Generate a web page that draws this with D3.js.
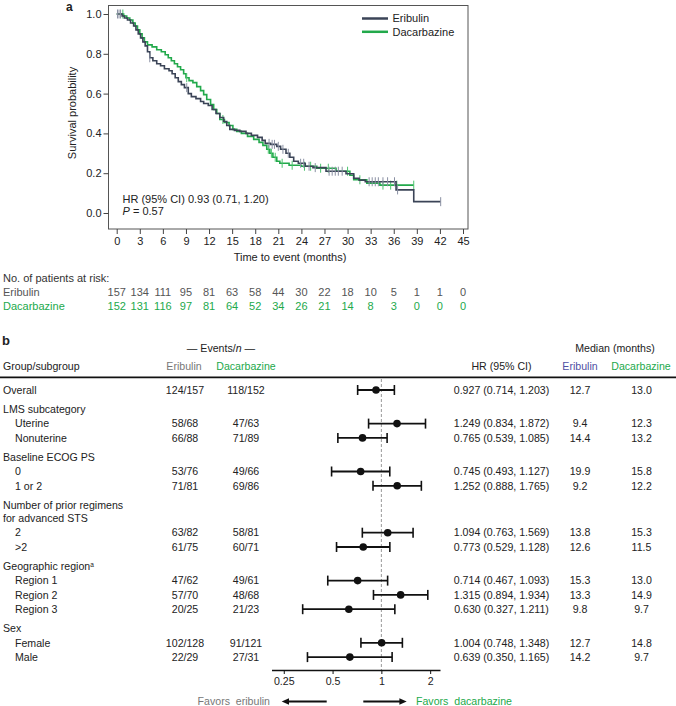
<!DOCTYPE html>
<html>
<head>
<meta charset="utf-8">
<script src="https://cdn.jsdelivr.net/npm/d3@7"></script>
<style>
  body { margin: 0; background: #fff; }
  text { font-family: "Liberation Sans", Arial, sans-serif; }
</style>
</head>
<body>
<div id="chart"></div>
<script>
// ---- panel a data ----
const monthTicks = [0, 3, 6, 9, 12, 15, 18, 21, 24, 27, 30, 33, 36, 39, 42, 45]
const survTicks = [0, 0.2, 0.4, 0.6, 0.8, 1.0]
const riskEribulin = [157, 134, 111, 95, 81, 63, 58, 44, 30, 22, 18, 10, 5, 1, 1, 0]
const riskDacarbazine = [152, 131, 116, 97, 81, 64, 52, 34, 26, 21, 14, 8, 3, 0, 0, 0]

// [time, survival after drop]
const eribulinSteps = [[0.7,0.99],[1.0,0.98],[1.4,0.97],[1.8,0.955],[2.2,0.94],[2.5,0.92],[2.8,0.90],[3.1,0.88],
  [3.4,0.86],[3.7,0.84],[4.0,0.81],[4.3,0.78],[4.7,0.765],[5.2,0.75],[5.7,0.74],[6.2,0.725],[6.8,0.715],[7.2,0.70],
  [7.6,0.68],[8.0,0.66],[8.4,0.645],[8.8,0.63],[9.3,0.60],[9.7,0.585],[10.3,0.575],[10.9,0.56],[11.3,0.55],[11.9,0.54],
  [12.4,0.52],[12.9,0.50],[13.4,0.48],[13.9,0.46],[14.3,0.44],[14.7,0.42],[15.3,0.415],[16.0,0.41],[16.8,0.40],
  [17.5,0.39],[18.3,0.38],[18.9,0.365],[19.3,0.35],[20.0,0.345],[20.8,0.335],[21.3,0.32],[22.0,0.30],[22.5,0.28],
  [23.0,0.26],[23.6,0.25],[24.5,0.235],[25.5,0.228],[27.2,0.21],[29.8,0.197],[30.8,0.175],[31.5,0.165],[32.3,0.157],
  [36.3,0.116],[38.6,0.057]]
const eribulinEnd = 42.1
const eribulinCensor = [0.1, 0.3, 0.5, 4.3, 9.1, 19.8, 20.2, 20.5, 21.0, 21.6, 22.3, 23.9, 24.3, 25.0, 25.8, 27.6, 28.0, 28.4,
  28.8, 29.3, 32.8, 33.2, 33.6, 34.0, 34.6, 35.2, 36.1, 36.5, 42.1]

const dacarbazineSteps = [[0.9,0.99],[1.3,0.98],[1.7,0.97],[2.1,0.955],[2.4,0.94],[2.7,0.92],[3.0,0.90],[3.3,0.88],
  [3.6,0.86],[4.0,0.845],[4.6,0.835],[5.2,0.82],[5.8,0.81],[6.3,0.795],[6.7,0.78],[7.1,0.765],[7.5,0.75],[7.9,0.735],
  [8.3,0.72],[8.7,0.70],[9.0,0.68],[9.4,0.665],[9.9,0.655],[10.4,0.635],[10.9,0.615],[11.3,0.595],[11.7,0.57],
  [12.2,0.545],[12.6,0.52],[13.0,0.50],[13.4,0.47],[14.0,0.455],[14.6,0.44],[15.1,0.42],[15.6,0.41],[16.2,0.40],
  [17.0,0.385],[17.8,0.37],[18.5,0.355],[19.0,0.34],[19.5,0.32],[19.9,0.30],[20.3,0.28],[20.8,0.26],[21.2,0.25],
  [22.4,0.24],[24.0,0.235],[26.0,0.225],[28.5,0.21],[30.3,0.19],[30.8,0.167],[32.5,0.15],[34.2,0.14]]
const dacarbazineEnd = 38.6
const dacarbazineCensor = [0.8, 9.1, 13.8, 19.7, 20.1, 20.6, 21.5, 22.8, 24.4, 25.2, 26.5, 27.5, 30.0, 31.6, 34.6, 35.6, 36.4, 38.6]

// ---- panel b data ----
const rowLabels = ["Overall", "LMS subcategory", "Uterine", "Nonuterine", "Baseline ECOG PS", "0", "1 or 2",
  "Number of prior regimens", "for advanced STS", "2", ">2", "Geographic region", "Region 1", "Region 2", "Region 3",
  "Sex", "Female", "Male"]
const rowKind = ["overall", "group", "sub", "sub", "group", "sub", "sub", "group", "cont", "sub", "sub", "group",
  "sub", "sub", "sub", "group", "sub", "sub"]
const eventsEribulin = ["124/157", "", "58/68", "66/88", "", "53/76", "71/81", "", "", "63/82", "61/75", "",
  "47/62", "57/70", "20/25", "", "102/128", "22/29"]
const eventsDacarbazine = ["118/152", "", "47/63", "71/89", "", "49/66", "69/86", "", "", "58/81", "60/71", "",
  "49/61", "48/68", "21/23", "", "91/121", "27/31"]
const hrValue = [0.927, null, 1.249, 0.765, null, 0.745, 1.252, null, null, 1.094, 0.773, null, 0.714, 1.315, 0.630, null, 1.004, 0.639]
const hrLow = [0.714, null, 0.834, 0.539, null, 0.493, 0.888, null, null, 0.763, 0.529, null, 0.467, 0.894, 0.327, null, 0.748, 0.350]
const hrHigh = [1.203, null, 1.872, 1.085, null, 1.127, 1.765, null, null, 1.569, 1.128, null, 1.093, 1.934, 1.211, null, 1.348, 1.165]
const medianEribulin = ["12.7", "", "9.4", "14.4", "", "19.9", "9.2", "", "", "13.8", "12.6", "", "15.3", "13.3", "9.8", "", "12.7", "14.2"]
const medianDacarbazine = ["13.0", "", "12.3", "13.2", "", "15.8", "12.2", "", "", "15.3", "11.5", "", "13.0", "14.9", "9.7", "", "14.8", "9.7"]
const hrTicks = [0.25, 0.5, 1, 2]

const colEri = "#3b4457", colDac = "#22a94b", grey = "#777", dark = "#222", purple = "#4f4fa3"

const svg = d3.select("#chart").append("svg")
    .attr("width", 676).attr("height", 706)
    .style("display", "block")

/* ================= panel a ================= */
const x = d3.scaleLinear().domain([0, 45]).range([116.7, 463])
const y = d3.scaleLinear().domain([0, 1]).range([213, 14])

svg.append("text").attr("x", 66).attr("y", 11).text("a")
    .attr("font-weight", "bold").attr("font-size", 12).attr("fill", dark)

svg.append("rect").attr("x", 108.5).attr("y", 5.5).attr("width", 359.5).attr("height", 223.5)
    .attr("fill", "none").attr("stroke", "#555").attr("stroke-width", 1)

const yAxis = svg.append("g").attr("transform", "translate(108.5,0)")
    .call(d3.axisLeft(y).tickValues(survTicks).tickFormat(d3.format(".1f")).tickSize(5).tickPadding(2))
yAxis.select(".domain").remove()
yAxis.selectAll("text").attr("font-size", 11).attr("fill", dark)
yAxis.selectAll("line").attr("stroke", "#444")

const xAxis = svg.append("g").attr("transform", "translate(0,229)")
    .call(d3.axisBottom(x).tickValues(monthTicks).tickSize(5).tickPadding(3))
xAxis.select(".domain").remove()
xAxis.selectAll("text").attr("font-size", 11).attr("fill", dark)
xAxis.selectAll("line").attr("stroke", "#444")

svg.append("text").attr("x", 290).attr("y", 261).attr("text-anchor", "middle")
    .attr("font-size", 11).attr("fill", dark).text("Time to event (months)")
svg.append("text").attr("transform", "translate(76,113) rotate(-90)").attr("text-anchor", "middle")
    .attr("font-size", 11).attr("fill", dark).text("Survival probability")

function survAt(steps, t) {
    let s = 1
    steps.forEach(d => { if (d[0] <= t) s = d[1] })
    return s
}

const line = d3.line().x(d => x(d[0])).y(d => y(d[1])).curve(d3.curveStepAfter)

function drawArm(steps, end, censor, color, censorColor) {
    const pts = [[0, 1]].concat(steps, [[end, steps[steps.length - 1][1]]])
    svg.append("path").datum(pts).attr("d", line)
        .attr("fill", "none").attr("stroke", color).attr("stroke-width", 1.6)
    svg.append("g").selectAll("line").data(censor).enter().append("line")
        .attr("x1", d => x(d)).attr("x2", d => x(d))
        .attr("y1", d => y(survAt(steps, d)) - 4.5).attr("y2", d => y(survAt(steps, d)) + 4.5)
        .attr("stroke", censorColor).attr("stroke-width", 1)
}
drawArm(dacarbazineSteps, dacarbazineEnd, dacarbazineCensor, colDac, "#4cc46e")
drawArm(eribulinSteps, eribulinEnd, eribulinCensor, colEri, "#8a90a3")

// legend
const legend = [["Eribulin", colEri], ["Dacarbazine", colDac]]
legend.forEach((d, i) => {
    svg.append("line").attr("x1", 362).attr("x2", 388).attr("y1", 18.5 + i * 13.3).attr("y2", 18.5 + i * 13.3)
        .attr("stroke", d[1]).attr("stroke-width", 2.5)
    svg.append("text").attr("x", 392.5).attr("y", 18.5 + i * 13.3).attr("dy", "0.35em")
        .attr("font-size", 11).attr("fill", dark).text(d[0])
})

svg.append("text").attr("x", 122.5).attr("y", 199.5).attr("dy", "0.35em").attr("font-size", 11).attr("fill", dark)
    .text("HR (95% CI) 0.93 (0.71, 1.20)")
const pText = svg.append("text").attr("x", 122.5).attr("y", 211.5).attr("dy", "0.35em").attr("font-size", 11).attr("fill", dark)
pText.append("tspan").attr("font-style", "italic").text("P")
pText.append("tspan").text(" = 0.57")

// numbers at risk
svg.append("text").attr("x", 3).attr("y", 278.3).attr("dy", "0.35em").attr("font-size", 11).attr("fill", "#333")
    .text("No. of patients at risk:")
svg.append("text").attr("x", 3).attr("y", 292.3).attr("dy", "0.35em").attr("font-size", 11).attr("fill", "#555").text("Eribulin")
svg.append("text").attr("x", 3).attr("y", 305.7).attr("dy", "0.35em").attr("font-size", 11).attr("fill", colDac).text("Dacarbazine")
svg.append("g").selectAll("text").data(riskEribulin).enter().append("text")
    .attr("x", (d, i) => x(monthTicks[i])).attr("y", 292.3).attr("dy", "0.35em")
    .attr("text-anchor", "middle").attr("font-size", 11).attr("fill", "#555").text(d => d)
svg.append("g").selectAll("text").data(riskDacarbazine).enter().append("text")
    .attr("x", (d, i) => x(monthTicks[i])).attr("y", 305.7).attr("dy", "0.35em")
    .attr("text-anchor", "middle").attr("font-size", 11).attr("fill", colDac).text(d => d)

/* ================= panel b ================= */
const fs = 10.6
svg.append("text").attr("x", 2).attr("y", 345).text("b")
    .attr("font-weight", "bold").attr("font-size", 13).attr("fill", dark)

const ev = svg.append("text").attr("x", 221).attr("y", 348.3).attr("dy", "0.35em")
    .attr("text-anchor", "middle").attr("font-size", fs).attr("fill", dark)
ev.append("tspan").text("\u2014 Events/")
ev.append("tspan").attr("font-style", "italic").text("n")
ev.append("tspan").text(" \u2014")
svg.append("text").attr("x", 615).attr("y", 348.3).attr("dy", "0.35em")
    .attr("text-anchor", "middle").attr("font-size", fs).attr("fill", dark).text("Median (months)")

const headY = 366.7
const headers = [["Group/subgroup", 3, "start", dark], ["Eribulin", 184, "middle", grey], ["Dacarbazine", 246, "middle", colDac],
    ["HR (95% CI)", 501.5, "middle", dark], ["Eribulin", 580, "middle", purple], ["Dacarbazine", 641, "middle", colDac]]
headers.forEach(h => {
    svg.append("text").attr("x", h[1]).attr("y", headY).attr("dy", "0.35em").attr("text-anchor", h[2])
        .attr("font-size", fs).attr("fill", h[3]).text(h[0])
})
svg.append("line").attr("x1", 0).attr("x2", 676).attr("y1", 377.3).attr("y2", 377.3)
    .attr("stroke", "#111").attr("stroke-width", 1.8)

// row positions
const rowY = []
rowLabels.forEach((d, i) => {
    if (i === 0) rowY.push(390)
    else rowY.push(rowY[i - 1] + (rowKind[i] === "cont" ? 13.3 : 14.3) + (rowKind[i] === "group" ? 5 : 0))
})

const hx = d3.scaleLog().domain([0.21, 2.3]).range([271.5, 440])

// reference line at HR = 1
svg.append("line").attr("x1", hx(1)).attr("x2", hx(1)).attr("y1", 379).attr("y2", 670)
    .attr("stroke", "#999").attr("stroke-width", 1).attr("stroke-dasharray", "3,2")

const rows = svg.append("g").selectAll("g").data(rowLabels).enter().append("g")
    .attr("transform", (d, i) => `translate(0,${rowY[i]})`)

rows.append("text").attr("x", (d, i) => rowKind[i] === "sub" ? 15 : 3).attr("dy", "0.35em")
    .attr("font-size", fs).attr("fill", dark)
    .each(function (d) {
        const t = d3.select(this)
        t.append("tspan").text(d)
        if (d === "Geographic region") t.append("tspan").attr("font-size", 6.5).attr("dy", "-0.5em").text("a")
    })
rows.append("text").attr("x", 185).attr("dy", "0.35em").attr("text-anchor", "middle")
    .attr("font-size", fs).attr("fill", dark).text((d, i) => eventsEribulin[i])
rows.append("text").attr("x", 246).attr("dy", "0.35em").attr("text-anchor", "middle")
    .attr("font-size", fs).attr("fill", dark).text((d, i) => eventsDacarbazine[i])
rows.append("text").attr("x", 501.5).attr("dy", "0.35em").attr("text-anchor", "middle")
    .attr("font-size", fs).attr("fill", dark)
    .text((d, i) => hrValue[i] === null ? "" :
        `${hrValue[i].toFixed(3)} (${hrLow[i].toFixed(3)}, ${hrHigh[i].toFixed(3)})`)
rows.append("text").attr("x", 580).attr("dy", "0.35em").attr("text-anchor", "middle")
    .attr("font-size", fs).attr("fill", dark).text((d, i) => medianEribulin[i])
rows.append("text").attr("x", 641.5).attr("dy", "0.35em").attr("text-anchor", "middle")
    .attr("font-size", fs).attr("fill", dark).text((d, i) => medianDacarbazine[i])

const est = rows.filter((d, i) => hrValue[i] !== null)
est.append("line").attr("x1", d => hx(hrLow[rowLabels.indexOf(d)])).attr("x2", d => hx(hrHigh[rowLabels.indexOf(d)]))
    .attr("stroke", "#111").attr("stroke-width", 1.8)
est.append("line").attr("x1", d => hx(hrLow[rowLabels.indexOf(d)])).attr("x2", d => hx(hrLow[rowLabels.indexOf(d)]))
    .attr("y1", -5).attr("y2", 5).attr("stroke", "#111").attr("stroke-width", 1.6)
est.append("line").attr("x1", d => hx(hrHigh[rowLabels.indexOf(d)])).attr("x2", d => hx(hrHigh[rowLabels.indexOf(d)]))
    .attr("y1", -5).attr("y2", 5).attr("stroke", "#111").attr("stroke-width", 1.6)
est.append("circle").attr("cx", d => hx(hrValue[rowLabels.indexOf(d)])).attr("r", 3.8).attr("fill", "#111")

const fAxis = svg.append("g").attr("transform", "translate(0,670)")
    .call(d3.axisBottom(hx).tickValues(hrTicks).tickFormat(d => d).tickSize(4).tickSizeOuter(0).tickPadding(3))
fAxis.select(".domain").attr("stroke", "#111").attr("stroke-width", 1.6)
fAxis.selectAll("line").attr("stroke", "#111")
fAxis.selectAll("text").attr("font-size", fs).attr("fill", dark)

// favors arrows
const favY = 701.5
svg.append("text").attr("x", 270).attr("y", favY).attr("dy", "0.35em").attr("text-anchor", "end")
    .attr("font-size", fs).attr("fill", grey).attr("xml:space", "preserve").text("Favors  eribulin")
svg.append("text").attr("x", 416).attr("y", favY).attr("dy", "0.35em")
    .attr("font-size", fs).attr("fill", colDac).attr("xml:space", "preserve").text("Favors  dacarbazine")
svg.append("line").attr("x1", 326.7).attr("x2", 288).attr("y1", favY).attr("y2", favY).attr("stroke", "#111").attr("stroke-width", 1.8)
svg.append("path").attr("d", `M281.7,${favY} L289,${favY - 3.2} L289,${favY + 3.2} Z`).attr("fill", "#111")
svg.append("line").attr("x1", 363.3).attr("x2", 400).attr("y1", favY).attr("y2", favY).attr("stroke", "#111").attr("stroke-width", 1.8)
svg.append("path").attr("d", `M406.7,${favY} L399.4,${favY - 3.2} L399.4,${favY + 3.2} Z`).attr("fill", "#111")
</script>
</body>
</html>
